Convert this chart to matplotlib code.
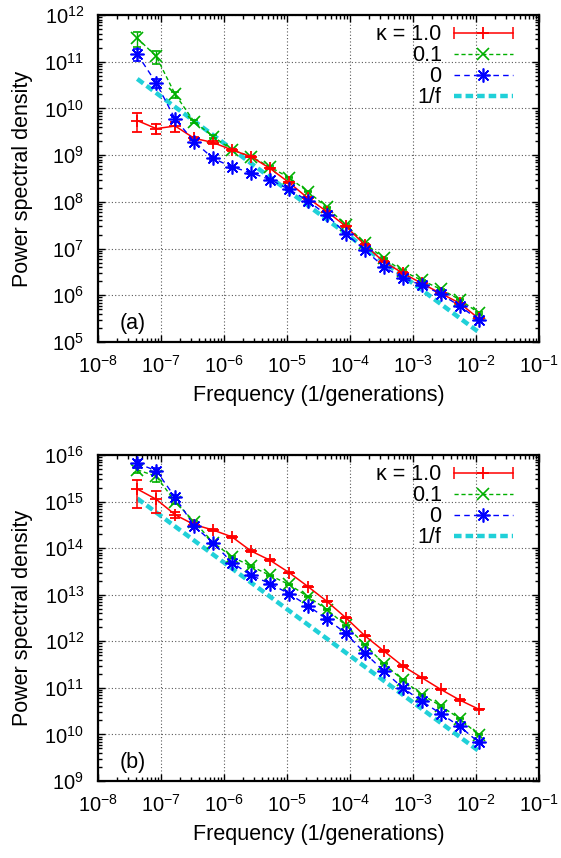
import matplotlib
matplotlib.use('Agg')
import matplotlib.pyplot as plt
from matplotlib.lines import Line2D
from matplotlib.legend_handler import HandlerLine2D
from matplotlib.ticker import LogLocator, NullFormatter
import numpy as np

# fonts (gnuplot-ish Helvetica look)
plt.rcParams['font.family'] = ['Liberation Sans', 'DejaVu Sans']
plt.rcParams['mathtext.fontset'] = 'custom'
plt.rcParams['mathtext.rm'] = 'Liberation Sans'
plt.rcParams['mathtext.it'] = 'Liberation Sans:italic'

# frequency bins (1/generations)
freq = [4.2e-8, 8.4e-8, 1.68e-7, 3.36e-7, 6.72e-7, 1.344e-6, 2.688e-6, 5.376e-6,
        1.075e-5, 2.15e-5, 4.301e-5, 8.602e-5, 1.72e-4, 3.441e-4, 6.881e-4,
        1.376e-3, 2.753e-3, 5.505e-3, 1.101e-2]

# panel (a)
red_a = [5.5e9, 3.7e9, 4.2e9, 2.3e9, 1.86e9, 1.29e9, 9.3e8, 5.2e8, 2.6e8, 1.2e8,
         6.2e7, 3.0e7, 1.2e7, 5.2e6, 3.0e6, 1.8e6, 1.1e6, 6.8e5, 3.2e5]
green_a = [3.2e11, 1.3e11, 2.0e10, 5.2e9, 2.5e9, 1.3e9, 9.3e8, 5.6e8, 3.3e8, 1.66e8,
           7.6e7, 3.2e7, 1.3e7, 6.2e6, 3.3e6, 2.1e6, 1.35e6, 8.1e5, 4.2e5]
blue_a = [1.45e11, 3.5e10, 5.9e9, 1.95e9, 8.5e8, 5.6e8, 4.2e8, 3.0e8, 1.86e8, 1.05e8,
          5.2e7, 2.1e7, 9.3e6, 4.1e6, 2.3e6, 1.66e6, 1.07e6, 5.9e5, 3.0e5]
red_a_rel = [0.42, 0.25, 0.24, 0.08, 0.06, 0.05, 0.04, 0.04, 0.04, 0.04,
             0.03, 0.03, 0.03, 0.03, 0.03, 0.03, 0.03, 0.03, 0.03]
green_a_rel = [0.35, 0.3, 0.15, 0.08, 0.06, 0.05, 0.04, 0.04, 0.04, 0.04,
               0.03, 0.03, 0.03, 0.03, 0.03, 0.03, 0.03, 0.03, 0.03]
blue_a_rel = [0.3, 0.2, 0.12, 0.08, 0.06, 0.05, 0.04, 0.04, 0.04, 0.04,
              0.03, 0.03, 0.03, 0.03, 0.03, 0.03, 0.03, 0.03, 0.03]
pink_a_amp = 1.8e3

# panel (b)
red_b = [1.86e15, 1.12e15, 5.2e14, 3.2e14, 2.45e14, 1.74e14, 8.7e13, 5.5e13, 3.0e13, 1.5e13,
         7.2e12, 3.2e12, 1.32e12, 6.2e11, 2.95e11, 1.66e11, 9.3e10, 5.5e10, 3.5e10]
green_b = [4.8e15, 3.5e15, 1.0e15, 3.7e14, 1.32e14, 6.5e13, 4.1e13, 2.6e13, 1.66e13, 9.1e12,
           4.8e12, 2.2e12, 8.5e11, 3.3e11, 1.48e11, 7.2e10, 4.1e10, 2.2e10, 9.8e9]
blue_b = [6.6e15, 4.6e15, 1.23e15, 3.0e14, 1.29e14, 4.9e13, 2.6e13, 1.74e13, 1.05e13, 5.8e12,
          3.0e12, 1.48e12, 5.6e11, 2.3e11, 1.0e11, 5.2e10, 2.8e10, 1.5e10, 6.8e9]
red_b_rel = [0.6, 0.5, 0.15, 0.08, 0.06, 0.05, 0.04, 0.04, 0.04, 0.04,
             0.03, 0.03, 0.03, 0.03, 0.03, 0.03, 0.03, 0.03, 0.03]
green_b_rel = [0.15, 0.25, 0.1, 0.06, 0.05, 0.05, 0.04, 0.04, 0.04, 0.04,
               0.03, 0.03, 0.03, 0.03, 0.03, 0.03, 0.03, 0.03, 0.03]
blue_b_rel = [0.2, 0.12, 0.1, 0.06, 0.05, 0.05, 0.04, 0.04, 0.04, 0.04,
              0.03, 0.03, 0.03, 0.03, 0.03, 0.03, 0.03, 0.03, 0.03]
pink_b_amp = 4.9e7

labels = ['κ = 1.0', '0.1', '0', '1/f']
RED, GREEN, BLUE, CYAN = '#ff0000', '#00b000', '#0000ff', '#20d0d8'
ASTER = (8, 2, 0)  # gnuplot-style asterisk
FS_TICK = 14.5
FS_TEXT = 15.5
CYAN_DASH = (0, (1.7, 0.9))


def draw_panel(ax, red, green, blue, rr, gr, br, amp, ylim, tag):
    f = np.array(freq)
    ax.errorbar(f, red, yerr=np.array(red) * np.array(rr), color=RED, lw=1.1,
                marker='+', ms=9, mew=1.3, capsize=3.5, elinewidth=1.1, zorder=4)
    ax.errorbar(f, green, yerr=np.array(green) * np.array(gr), color=GREEN, lw=1.0,
                ls=(0, (3, 2)), marker='x', ms=8, mew=1.2, capsize=3, elinewidth=1.0, zorder=3)
    ax.errorbar(f, blue, yerr=np.array(blue) * np.array(br), color=BLUE, lw=1.0,
                ls=(0, (4, 3)), marker=ASTER, ms=10, mew=1.2, capsize=3, elinewidth=1.0, zorder=5)
    ax.plot(f, amp / f, color=CYAN, lw=3.2, ls=CYAN_DASH, zorder=2)

    ax.set_xscale('log')
    ax.set_yscale('log')
    ax.set_xlim(1e-8, 1e-1)
    ax.set_ylim(*ylim)
    for axis in (ax.xaxis, ax.yaxis):
        axis.set_major_locator(LogLocator(base=10, numticks=20))
        axis.set_minor_locator(LogLocator(base=10, subs=np.arange(2, 10), numticks=20))
        axis.set_minor_formatter(NullFormatter())
    ax.tick_params(which='both', direction='in', top=True, right=True, width=1.0)
    ax.tick_params(which='major', length=5, labelsize=FS_TICK)
    ax.tick_params(which='minor', length=3)
    ax.tick_params(axis='x', pad=9)
    ax.tick_params(axis='y', pad=10)
    for s in ax.spines.values():
        s.set_linewidth(1.6)
    ax.grid(True, which='major', color='0.35', ls=(0, (1, 2)), lw=0.8)

    ax.set_xlabel('Frequency (1/generations)', fontsize=FS_TEXT)
    ax.set_ylabel('Power spectral density', fontsize=FS_TEXT)
    ax.xaxis.set_label_coords(0.5, -0.133)
    ax.yaxis.set_label_coords(-0.147, 0.5)
    ax.text(0.079, 0.058, tag, transform=ax.transAxes, fontsize=FS_TEXT,
            ha='center', va='center')

    # gnuplot-like legend
    caps = Line2D([], [], color=RED, marker='|', ms=8, mew=1.1, lw=1.1)
    mid = Line2D([], [], color=RED, marker='+', ms=9, mew=1.3, ls='none')
    g = Line2D([], [], color=GREEN, lw=1.0, ls=(0, (3, 2)), marker='x', ms=8, mew=1.2)
    b = Line2D([], [], color=BLUE, lw=1.0, ls=(0, (4, 3)), marker=ASTER, ms=10, mew=1.2)
    c = Line2D([], [], color=CYAN, lw=3.2, ls=CYAN_DASH)
    ax.legend([(caps, mid), g, b, c], labels, loc='upper right',
              bbox_to_anchor=(0.941, 0.972), frameon=False, markerfirst=False,
              numpoints=1, handlelength=2.75, handletextpad=0.56, labelspacing=0.0,
              borderpad=0, borderaxespad=0, fontsize=FS_TEXT,
              handler_map={caps: HandlerLine2D(numpoints=2, marker_pad=0)})


fig = plt.figure(figsize=(5.61, 8.58), dpi=100)
ax1 = fig.add_axes([0.1747, 0.6014, 0.786, 0.3811])
ax2 = fig.add_axes([0.1747, 0.0897, 0.786, 0.380])

draw_panel(ax1, red_a, green_a, blue_a, red_a_rel, green_a_rel, blue_a_rel,
           pink_a_amp, (1e5, 1e12), '(a)')
draw_panel(ax2, red_b, green_b, blue_b, red_b_rel, green_b_rel, blue_b_rel,
           pink_b_amp, (1e9, 1e16), '(b)')

fig.savefig('out.png', dpi=100, facecolor='white')
